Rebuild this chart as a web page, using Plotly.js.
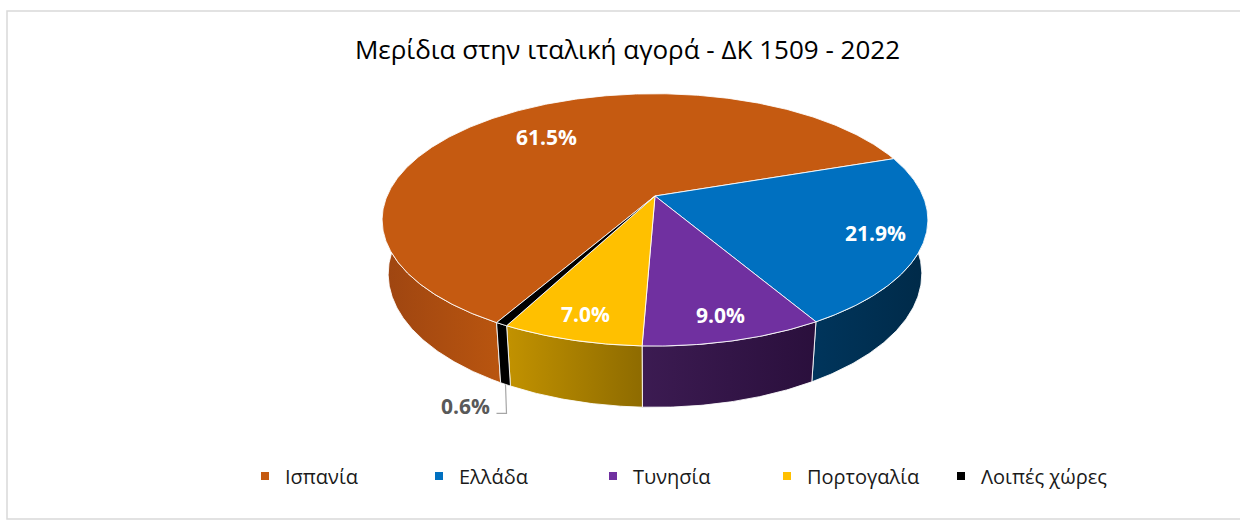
<!DOCTYPE html>
<html>
<head>
<meta charset="utf-8">
<script src="https://cdn.plot.ly/plotly-3.0.1.min.js"></script>
<style>html,body{margin:0;padding:0;background:#fff;}#chart{width:1240px;height:520px;}</style>
</head>
<body>
<div id="chart"></div>
<script>
// ---- data ----
const categories = ['Ισπανία', 'Ελλάδα', 'Τυνησία', 'Πορτογαλία', 'Λοιπές χώρες'];
const shares = [61.5, 21.9, 9.0, 7.0, 0.6];
const titleText = 'Μερίδια στην ιταλική αγορά - ΔΚ 1509 - 2022';

// ---- styles ----
const topColors = ['#C55A11', '#0070C0', '#7030A0', '#FFC000', '#000000'];
const sideLeft  = ['#9E4511', '#00355C', '#3C1B52', '#C29200', '#000000'];
const sideRight = ['#B9550F', '#002A48', '#2A0F3C', '#8E6B00', '#000000'];
const labelRadius = [0.70, 0.83, 0.85, 0.85, 1.0];
const labelInside = [true, true, true, true, false];
const FONT = 'Open Sans, Noto Sans, sans-serif';

// ---- 3D pie projection (perspective) ----
const P = {cx: 655, cy: 196, f: 1262, D: 4.71, s: 0.454, c: 0.891, h: 0.2276, start: 209.6};
function proj(thetaDeg, r, Y) {
  const t = thetaDeg * Math.PI / 180;
  const X = r * Math.sin(t), Z = -r * Math.cos(t);
  const v = Z * P.s - Y * P.c;
  const w = P.D - Z * P.c - Y * P.s;
  return [P.cx + P.f * X / w, P.cy + P.f * v / w];
}
function arc(a0, a1, Y) {
  const pts = [];
  const n = Math.max(2, Math.ceil(Math.abs(a1 - a0) / 0.5));
  for (let i = 0; i <= n; i++) pts.push(proj(a0 + (a1 - a0) * i / n, 1, Y));
  return pts;
}

const total = shares.reduce((a, b) => a + b, 0);
const angles = [];
let acc = P.start;
shares.forEach(v => { const span = v / total * 360; angles.push([acc, acc + span]); acc += span; });

const traces = [];
const edge = {color: 'rgba(255,255,255,0.85)', width: 1};

// side walls (front half only)
const wallMin = 75, wallMax = 285;
angles.forEach(([a0, a1], i) => {
  const ranges = [];
  [[a0, a1], [a0 - 360, a1 - 360], [a0 + 360, a1 + 360]].forEach(([b0, b1]) => {
    const lo = Math.max(b0, wallMin), hi = Math.min(b1, wallMax);
    if (hi > lo) ranges.push([lo, hi]);
  });
  ranges.forEach(([lo, hi]) => {
    const topPts = arc(lo, hi, 0);
    const botPts = arc(hi, lo, -P.h);
    const pts = topPts.concat(botPts);
    pts.push(topPts[0]);
    traces.push({
      type: 'scatter', mode: 'lines', fill: 'toself',
      x: pts.map(p => p[0]), y: pts.map(p => p[1]),
      line: edge, fillcolor: sideLeft[i],
      fillgradient: {type: 'horizontal', colorscale: [[0, sideLeft[i]], [1, sideRight[i]]]},
      showlegend: false, hoverinfo: 'skip'
    });
  });
});

// top faces
angles.forEach(([a0, a1], i) => {
  const apex = proj(0, 0, 0);
  const pts = [apex].concat(arc(a0, a1, 0)).concat([apex]);
  traces.push({
    type: 'scatter', mode: 'lines', fill: 'toself',
    x: pts.map(p => p[0]), y: pts.map(p => p[1]),
    line: edge, fillcolor: topColors[i],
    name: categories[i], showlegend: false, hoverinfo: 'skip'
  });
});

// legend entries
categories.forEach((name, i) => {
  traces.push({
    type: 'scatter', mode: 'markers', x: [null], y: [null], name: name,
    marker: {symbol: 'square', size: 8, color: topColors[i]}, hoverinfo: 'skip'
  });
});

// labels
const annotations = [];
angles.forEach(([a0, a1], i) => {
  const pct = (shares[i] / total * 100).toFixed(1) + '%';
  const mid = (a0 + a1) / 2;
  if (labelInside[i]) {
    const p = proj(mid, labelRadius[i], 0);
    annotations.push({x: p[0], y: p[1], xref: 'x', yref: 'y', text: '<b>' + pct + '</b>', showarrow: false,
      font: {family: FONT, size: 21, color: '#FFFFFF'}});
  } else {
    const anchor = proj(mid, 1, -P.h);
    const elbow = [anchor[0] + 1, anchor[1] + 29];
    const end = [elbow[0] - 10, elbow[1]];
    traces.push({type: 'scatter', mode: 'lines', x: [anchor[0], elbow[0], end[0]], y: [anchor[1], elbow[1], end[1]],
      line: {color: '#A6A6A6', width: 1.2}, showlegend: false, hoverinfo: 'skip'});
    annotations.push({x: end[0] - 5, y: end[1] - 7, xref: 'x', yref: 'y', xanchor: 'right', text: '<b>' + pct + '</b>', showarrow: false,
      font: {family: FONT, size: 21, color: '#595959'}});
  }
});

const layout = {
  width: 1240, height: 520,
  margin: {l: 0, r: 0, t: 0, b: 0},
  paper_bgcolor: '#FFFFFF', plot_bgcolor: '#FFFFFF',
  title: {text: titleText, x: 0.506, xanchor: 'center', y: 0.905, yanchor: 'middle',
    font: {family: FONT, size: 26, color: '#000000'}},
  xaxis: {range: [0, 1240], visible: false, fixedrange: true},
  yaxis: {range: [520, 0], visible: false, fixedrange: true},
  showlegend: true,
  legend: {orientation: 'h', x: 245 / 1240, xanchor: 'left', y: 1 - 476 / 520, yanchor: 'middle',
    entrywidth: 129, entrywidthmode: 'pixels', itemwidth: 30, tracegroupgap: 0,
    font: {family: FONT, size: 20, color: '#1A1A1A'}, bgcolor: 'rgba(0,0,0,0)'},
  shapes: [{type: 'rect', xref: 'x', yref: 'y', x0: 7, y0: 11, x1: 1260, y1: 519, line: {color: '#D9D9D9', width: 1.5}, fillcolor: 'rgba(0,0,0,0)', layer: 'below'}],
  annotations: annotations
};

Plotly.newPlot('chart', traces, layout, {displayModeBar: false, staticPlot: true});
</script>
</body>
</html>
